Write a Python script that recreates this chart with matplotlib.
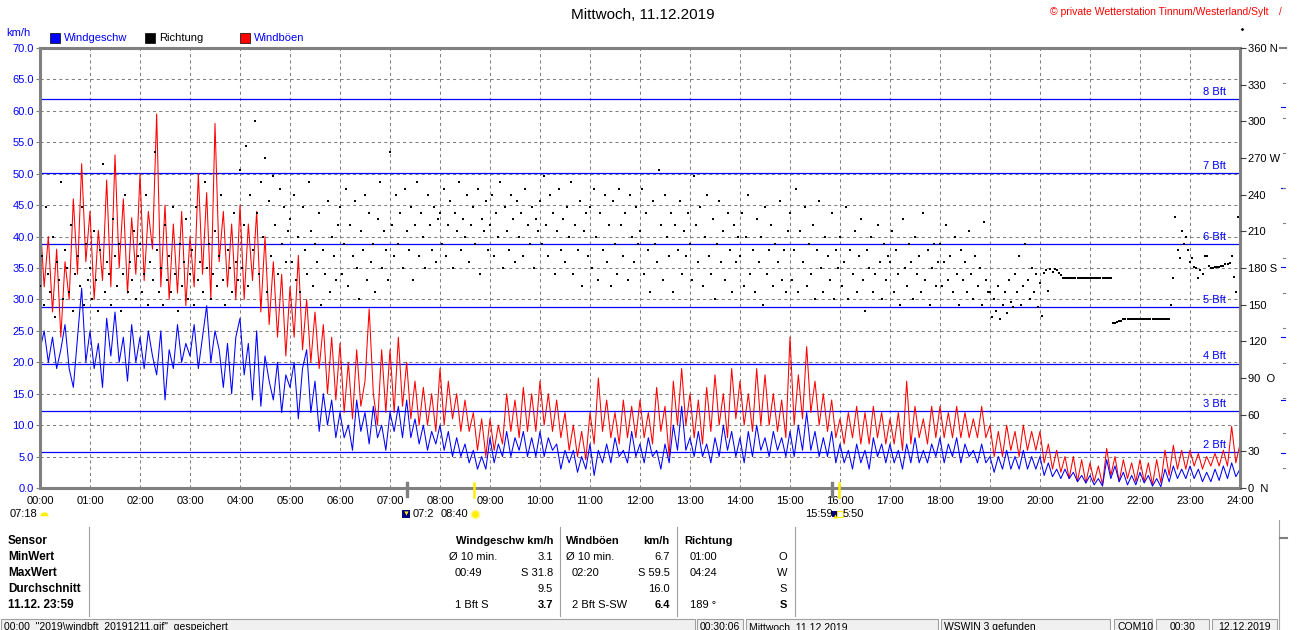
import numpy as np
import matplotlib.pyplot as plt
import matplotlib.transforms as mtransforms
from matplotlib.patches import Rectangle
from matplotlib.lines import Line2D

plt.rcParams['font.family'] = ['Liberation Sans', 'DejaVu Sans']

#%% data
# wind speed km/h, 5-minute readings, one row per hour (last value = 24:00)
speed = [
    22, 25, 20, 24, 19, 22, 26, 19, 16, 24, 31.8, 20,
    25, 19, 23, 16, 27, 21, 28, 20, 24, 17, 26, 20,
    24, 19, 25, 21, 18, 25, 14, 22, 19, 26, 20, 23,
    21, 26, 19, 24, 29, 20, 25, 22, 16, 23, 15, 24,
    27, 18, 23, 14, 25, 13, 21, 17, 14, 20, 12, 18,
    16, 20, 11, 19, 22, 12, 17, 9, 15, 10, 14, 8,
    12, 8, 10, 6, 14, 9, 12, 7, 13, 8, 10, 6,
    12, 9, 13, 8, 14, 8, 11, 7, 10, 6, 9, 7,
    10, 6, 9, 5, 8, 5, 7, 4, 6, 3, 5, 3,
    8, 4, 7, 5, 9, 5, 8, 6, 9, 5, 8, 5,
    9, 5, 8, 6, 7, 3, 6, 4, 6, 2.5, 5, 3,
    7, 2, 6, 4, 7, 4, 8, 5, 6, 4, 9, 5,
    7, 4, 8, 5, 6, 3, 7, 4, 10, 6, 13, 6,
    8, 5, 9, 5, 7, 4, 8, 5, 10, 6, 9, 5,
    8, 4, 9, 5, 10, 6, 8, 5, 9, 6, 8, 5,
    9, 5, 10, 6, 12, 6, 9, 5, 8, 5, 9, 4,
    7, 4, 6, 3, 7, 4, 6, 3, 8, 5, 7, 4,
    7, 4, 6, 3, 7, 4, 8, 4, 6, 4, 7, 5,
    8, 4, 7, 5, 8, 4, 7, 5, 6, 4, 7, 4,
    5, 2.5, 5, 3, 6, 3, 5, 3, 6, 3, 5, 3,
    5, 2, 4, 1.8, 3, 1.5, 3, 1.5, 2.5, 1, 2, 0.8,
    2, 0.5, 1.5, 0.3, 4.5, 1.5, 3.5, 1, 2.5, 0.5, 2, 0.5,
    2.5, 0.8, 2, 0.3, 1.5, 0.2, 3, 1, 3.5, 1.5, 3, 1.5,
    3.5, 1.5, 3, 1, 2.5, 1, 3, 1.2, 3.5, 1.5, 4, 1.8,
    3,
]

# gusts km/h, same 5-minute grid
gust = [
    43, 32, 40, 28, 38, 24, 36, 30, 46, 34, 51.6, 36,
    44, 30, 41, 33, 49, 32, 53, 35, 46, 31, 43, 34,
    50, 33, 44, 38, 59.5, 32, 45, 30, 42, 31, 44, 29,
    40, 32, 50, 34, 47, 30, 58, 36, 44, 32, 42, 30,
    45, 30, 42, 33, 44, 28, 40, 26, 36, 24, 34, 21,
    32, 24, 37, 22, 30, 20, 28, 19, 26, 15, 24, 14,
    23, 12, 20, 11, 22, 13, 17, 28.5, 15, 10, 22, 12,
    22, 12, 24, 13, 20, 11, 17, 10, 16, 10, 15, 9,
    19, 10, 17, 11, 15, 9, 14, 9, 12, 6, 11, 5,
    11, 6, 10, 7, 15, 9, 14, 8, 16, 9, 15, 9,
    17, 10, 15, 9, 14, 8, 12, 6, 10, 5, 9, 4.5,
    12, 7, 17.5, 9, 14, 8, 12, 7, 14, 8, 13, 8,
    14, 8, 12, 7, 16, 9, 13, 5, 17, 10, 19, 10,
    15, 8, 14, 7, 16, 9, 18, 10, 15, 8, 19, 11,
    17, 10, 15, 9, 19, 10, 18, 10, 15, 9, 14, 8,
    24, 10, 18, 11, 22.5, 12, 17, 10, 15, 9, 14, 8,
    11, 7, 12, 8, 13, 7, 12, 7, 13, 8, 12, 7,
    11, 7, 12, 6, 17, 7, 13, 8, 11, 7, 13, 8,
    13, 8, 12, 8, 13, 8, 12, 8, 11, 8, 13, 8,
    10, 5, 9, 5, 10, 6, 9, 5, 10, 6, 9, 6,
    9, 4, 7, 3, 6, 2.5, 5, 1.5, 5, 1, 4.5, 0.8,
    4, 1, 3.5, 0.5, 6.3, 2, 5, 1, 4.5, 1.5, 4, 1,
    4.5, 1, 4, 0.5, 4.5, 0.8, 6, 2, 6.8, 3, 6, 3,
    6, 3.5, 5.5, 3, 5, 3.5, 5.5, 3.5, 6, 3.5, 9.8, 4,
    7,
]

# wind direction in degrees, 2.5-minute readings, one row per hour
direction = [
    165, 190, 150, 230, 175, 160, 205, 140, 185, 170, 250, 155, 195, 180, 160, 215, 145, 175, 190, 165, 230, 150, 200, 170,
    180, 155, 210, 170, 145, 195, 265, 160, 185, 175, 150, 220, 190, 165, 200, 145, 175, 240, 160, 185, 170, 210, 155, 190,
    200, 160, 175, 240, 150, 185, 170, 275, 195, 160, 180, 150, 215, 170, 190, 160, 230, 175, 145, 200, 165, 185, 220, 155,
    175, 195, 150, 230, 170, 185, 160, 250, 180, 200, 155, 175, 210, 165, 190, 240, 170, 150, 195, 180, 160, 225, 185, 170,
    260, 180, 215, 280, 165, 240, 195, 300, 225, 175, 250, 205, 270, 160, 235, 190, 255, 215, 175, 245, 200, 230, 185, 210,
    220, 185, 240, 170, 205, 160, 230, 195, 175, 250, 210, 165, 200, 185, 225, 150, 195, 175, 235, 160, 205, 190, 170, 215,
    230, 175, 200, 245, 165, 215, 190, 235, 180, 155, 210, 195, 240, 170, 225, 185, 200, 160, 220, 250, 180, 210, 195, 170,
    275, 215, 190, 240, 200, 225, 180, 245, 210, 195, 230, 170, 215, 250, 190, 225, 205, 180, 240, 215, 195, 230, 185, 220,
    225, 200, 245, 190, 215, 235, 180, 225, 210, 250, 195, 220, 205, 240, 185, 215, 230, 200, 245, 175, 220, 210, 235, 195,
    215, 240, 190, 225, 205, 250, 180, 230, 210, 195, 240, 220, 185, 235, 205, 225, 190, 245, 215, 200, 230, 180, 220, 210,
    235, 200, 255, 215, 190, 240, 225, 175, 210, 245, 195, 220, 185, 230, 205, 250, 175, 215, 195, 235, 165, 210, 225, 190,
    230, 180, 245, 205, 170, 225, 195, 240, 185, 215, 165, 235, 200, 175, 245, 215, 190, 225, 170, 240, 205, 185, 230, 200,
    210, 245, 175, 225, 195, 160, 235, 200, 185, 260, 215, 170, 240, 205, 190, 225, 160, 215, 195, 235, 175, 210, 190, 225,
    200, 170, 255, 215, 185, 230, 165, 205, 240, 190, 175, 220, 155, 200, 235, 185, 210, 170, 225, 195, 160, 215, 185, 205,
    190, 225, 165, 205, 240, 175, 195, 160, 220, 185, 205, 150, 230, 175, 195, 215, 165, 200, 185, 235, 170, 195, 160, 210,
    225, 170, 195, 245, 160, 210, 185, 230, 165, 200, 175, 215, 155, 195, 235, 180, 160, 205, 190, 170, 225, 155, 195, 180,
    205, 165, 185, 230, 155, 195, 175, 210, 160, 190, 220, 170, 145, 195, 180, 205, 160, 175, 215, 185, 155, 200, 170, 190,
    185, 210, 160, 195, 175, 150, 220, 180, 165, 200, 185, 155, 205, 175, 190, 160, 225, 170, 195, 150, 180, 200, 165, 185,
    200, 165, 185, 215, 170, 190, 160, 205, 175, 150, 195, 170, 185, 160, 210, 175, 155, 190, 165, 180, 150, 218, 170, 160,
    160, 140, 155, 145, 165, 138, 150, 160, 143, 170, 152, 148, 175, 160, 190, 150, 165, 200, 170, 155, 180, 160, 175, 148,
    168, 141, 176, 178, 161, 179, 177, 179, 178, 176, 174, 172, 172, 172, 172, 172, 172, 172, 172, 172, 172, 172, 172, 172,
    172, 172, 172, 172, 172, 172, 172, 172, 172, 172, 172, 135, 135, 136, 137, 137, 138, 138, 138, 138, 138, 138, 138, 138,
    138, 138, 138, 138, 138, 138, 138, 138, 138, 138, 138, 138, 138, 138, 138, 150, 172, 222, 195, 188, 210, 200, 205, 195,
    185, 188, 181, 180, 172, 178, 175, 190, 190, 182, 180, 180, 181, 181, 181, 182, 182, 183, 183, 184, 190, 173, 160, 222,
]

bft_kmh = [5.76, 12.24, 19.8, 28.8, 38.88, 50.04, 61.92]
bft_names = ['2 Bft', '3 Bft', '4 Bft', '5 Bft', '6 Bft', '7 Bft', '8 Bft']

hour_labels = ['%02d:00' % h for h in range(25)]
dir_ticks = list(range(0, 361, 30))
dir_labels = ['0  N', '30', '60', '90  O', '120', '150', '180 S',
              '210', '240', '270 W', '300', '330', '360 N']

# sun / twilight marks on the time axis (hours)
twilight_marks = [7.33, 15.83]
sun_marks = [8.67, 15.97]

#%% figure
W, H = 1310, 630
BLUE = '#0000ff'
GRAY = '#808080'


def fx(px):
    return px / W


def fy(py):
    return 1 - py / H


fig = plt.figure(figsize=(W / 100, H / 100), dpi=100)
ax = fig.add_axes([fx(40), fy(488), 1200 / W, 440 / H])

t_wind = np.arange(len(speed)) / 12.0
t_dir = np.arange(len(direction)) / 24.0

ax.plot(t_wind, gust, color='#ff0000', lw=0.75, zorder=3)
ax.plot(t_wind, speed, color=BLUE, lw=0.75, zorder=4)

for lvl, name in zip(bft_kmh, bft_names):
    ax.axhline(lvl, color=BLUE, lw=0.9, zorder=2)
    ax.annotate(name, xy=(0.988, lvl), xycoords=('axes fraction', 'data'),
                xytext=(0, 1.5), textcoords='offset points',
                ha='right', va='bottom', color=BLUE, fontsize=8)

ax.set_xlim(0, 24)
ax.set_ylim(0, 70)
ax.set_xticks(range(25))
ax.set_xticklabels(hour_labels)
yt = np.arange(0, 70.1, 5)
ax.set_yticks(yt)
ax.set_yticklabels(['%.1f' % v for v in yt])
ax.grid(True, color=GRAY, ls=(0, (3, 3)), lw=0.75, zorder=1)
ax.tick_params(axis='y', direction='out', length=3, width=0.8, color=GRAY,
               labelsize=8, pad=1.5, labelcolor=BLUE)
ax.tick_params(axis='x', length=0, labelsize=8, pad=6)
for s in ax.spines.values():
    s.set_color(GRAY)
    s.set_linewidth(2.2)
    s.set_zorder(6)

ax2 = ax.twinx()
ax2.plot(t_dir, direction, 's', color='black', ms=1.7, mew=0, zorder=5)
ax2.set_ylim(0, 360)
ax2.set_yticks(dir_ticks)
ax2.set_yticklabels(dir_labels)
ax2.tick_params(axis='y', direction='out', length=4, width=0.8, color='#404040',
                labelsize=8, pad=1.5)
for s in ax2.spines.values():
    s.set_visible(False)

# marks on the time axis
trans = mtransforms.blended_transform_factory(ax.transData, ax.transAxes)
for x in twilight_marks:
    ax.plot([x, x], [-0.018, 0.012], color=GRAY, lw=2.4, transform=trans,
            clip_on=False, zorder=7)
for x in sun_marks:
    ax.plot([x, x], [-0.02, 0.012], color='#ffee00', lw=1.8, transform=trans,
            clip_on=False, zorder=7)

#%% header
fig.text(fx(643), fy(15), 'Mittwoch, 11.12.2019', ha='center', va='center', fontsize=11)
fig.text(fx(1268), fy(12), '\u00a9 private Wetterstation Tinnum/Westerland/Sylt',
         ha='right', va='center', fontsize=7.5, color='red')
fig.text(fx(1279), fy(12), '/', ha='left', va='center', fontsize=7, color='red')
fig.add_artist(Line2D([fx(1242)], [fy(29)], marker='D', ms=1.8, color='black',
                      mew=0, transform=fig.transFigure))
fig.text(fx(6), fy(33), 'km/h', ha='left', va='center', fontsize=8, color=BLUE)

legend_items = [(55, '#0000ff', 'Windgeschw', BLUE),
                (150, '#000000', 'Richtung', 'black'),
                (245, '#ff0000', 'Windb\u00f6en', BLUE)]
for x, fc, label, tc in legend_items:
    fig.add_artist(Line2D([fx(x)], [fy(38)], marker='s', ms=7, mfc=fc, mec='black',
                          mew=0.5, transform=fig.transFigure))
    fig.text(fx(x + 9), fy(38), label, ha='left', va='center', fontsize=8, color=tc)

#%% sun info under the axis
fig.text(fx(10), fy(514), '07:18', ha='left', va='center', fontsize=8)
fig.add_artist(Line2D([fx(44)], [fy(516)], marker='o', ms=6, fillstyle='top',
                      mfc='#ffee00', mfcalt='white', mec='none', transform=fig.transFigure))
fig.add_artist(Line2D([fx(406)], [fy(514)], marker='s', ms=6, color='#000080',
                      mew=0, transform=fig.transFigure))
fig.add_artist(Line2D([fx(406)], [fy(513)], marker='v', ms=3, color='#ffee00',
                      mew=0, transform=fig.transFigure))
fig.text(fx(413), fy(514), '07:2', ha='left', va='center', fontsize=8)
fig.text(fx(441), fy(514), '08:40', ha='left', va='center', fontsize=8)
fig.add_artist(Line2D([fx(475)], [fy(514)], marker='o', ms=6, mfc='#ffee00',
                      mec='#fff8a0', mew=1.2, transform=fig.transFigure))
fig.text(fx(805), fy(514), '15:59', ha='left', va='center', fontsize=8)
fig.add_artist(Line2D([fx(835)], [fy(514)], marker='s', ms=5, color='#000080',
                      mew=0, transform=fig.transFigure))
fig.add_artist(Line2D([fx(835)], [fy(516)], marker='^', ms=3, color='#ffee00',
                      mew=0, transform=fig.transFigure))
fig.add_artist(Line2D([fx(840)], [fy(514)], marker='s', ms=4, mfc='none',
                      mec='#ffee00', mew=0.8, transform=fig.transFigure))
fig.text(fx(843), fy(514), '5:50', ha='left', va='center', fontsize=8)

#%% statistics table
rows_y = [541, 557, 573, 589, 605]
sensor_rows = ['Sensor', 'MinWert', 'MaxWert', 'Durchschnitt', '11.12. 23:59']
for label, y in zip(sensor_rows, rows_y):
    fig.text(fx(8), fy(y), label, ha='left', va='center', fontsize=8.5, fontweight='bold')

# (x, row, text, ha, bold)
table_cells = [
    (553, 0, 'Windgeschw km/h', 'right', True),
    (449, 1, '\u00d8 10 min.', 'left', False), (553, 1, '3.1', 'right', False),
    (455, 2, '00:49', 'left', False), (553, 2, 'S 31.8', 'right', False),
    (553, 3, '9.5', 'right', False),
    (455, 4, '1 Bft S', 'left', False), (553, 4, '3.7', 'right', True),
    (566, 0, 'Windb\u00f6en', 'left', True), (670, 0, 'km/h', 'right', True),
    (566, 1, '\u00d8 10 min.', 'left', False), (670, 1, '6.7', 'right', False),
    (572, 2, '02:20', 'left', False), (670, 2, 'S 59.5', 'right', False),
    (670, 3, '16.0', 'right', False),
    (572, 4, '2 Bft S-SW', 'left', False), (670, 4, '6.4', 'right', True),
    (684, 0, 'Richtung', 'left', True),
    (690, 1, '01:00', 'left', False), (787, 1, 'O', 'right', False),
    (690, 2, '04:24', 'left', False), (787, 2, 'W', 'right', False),
    (787, 3, 'S', 'right', False),
    (690, 4, '189 \u00b0', 'left', False), (787, 4, 'S', 'right', True),
]
for x, r, txt, ha, bold in table_cells:
    fig.text(fx(x), fy(rows_y[r]), txt, ha=ha, va='center', fontsize=8,
             fontweight='bold' if bold else 'normal')

for x in [89, 560, 677, 795]:
    fig.add_artist(Line2D([fx(x), fx(x)], [fy(527), fy(616)], color='#a0a0a0', lw=0.8))
fig.add_artist(Line2D([fx(1279), fx(1279)], [fy(520), fy(630)], color='#a0a0a0', lw=0.8))

# small marks of a hidden scale at the far right
for y in [107, 188, 267, 337, 400, 453]:
    fig.add_artist(Line2D([fx(1281), fx(1285)], [fy(y), fy(y)], color=BLUE, lw=0.8))
for k in range(1, 13):
    y = 48 + 35 * k
    fig.add_artist(Line2D([fx(1283), fx(1285)], [fy(y), fy(y)], color=GRAY, lw=0.8))
fig.add_artist(Line2D([fx(1280), fx(1286)], [fy(48), fy(48)], color=GRAY, lw=1.5))
fig.add_artist(Line2D([fx(1280), fx(1287)], [fy(538), fy(538)], color=GRAY, lw=1.5))

#%% status bar (its text is cut by the lower window edge, as on the original)
panels = [(1, 695, '00:00  "2019\\windbft_20191211.gif"  gespeichert', 'left'),
          (697, 743, '00:30:06', 'right'),
          (746, 938, 'Mittwoch, 11.12.2019', 'left'),
          (941, 1110, 'WSWIN 3 gefunden', 'left'),
          (1114, 1152, 'COM10', 'left'),
          (1156, 1209, '00:30', 'center'),
          (1212, 1277, '12.12.2019', 'center')]
for x0, x1, txt, ha in panels:
    fig.add_artist(Rectangle((fx(x0), fy(634)), (x1 - x0) / W, 15 / H,
                             transform=fig.transFigure, facecolor='#f0f0f0',
                             edgecolor='#a0a0a0', lw=0.8))
    tx = {'left': x0 + 3, 'right': x1 - 3, 'center': (x0 + x1) / 2}[ha]
    fig.text(fx(tx), fy(627), txt, ha=ha, va='center', fontsize=7.5)

fig.savefig('out.png', dpi=100)
